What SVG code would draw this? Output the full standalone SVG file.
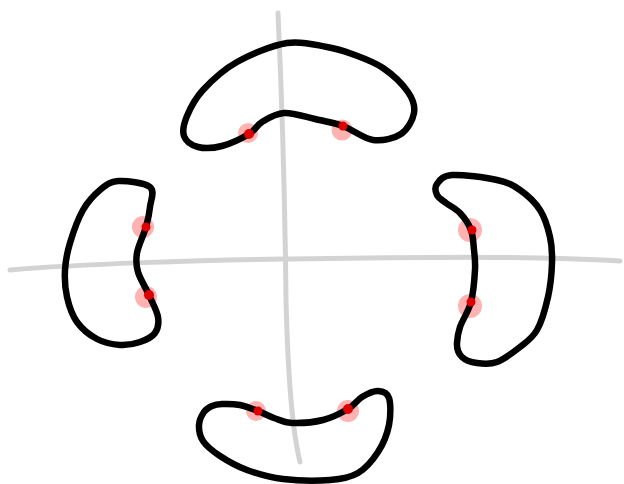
<svg xmlns="http://www.w3.org/2000/svg" width="624" height="484" viewBox="0 0 624 484">
<style>
.axis{fill:none;stroke:#d3d3d3;stroke-width:5;stroke-linecap:round;stroke-linejoin:round}
.bean{fill:none;stroke:#000;stroke-width:6.5;stroke-linecap:round;stroke-linejoin:round}
.halo{fill:#ff0000;fill-opacity:0.3}
.dot{fill:#dd0000}
</style>
<g id="axes">
<path class="axis" d="M10,270 C80,264 200,260 285,259 C400,258 520,255 620,261"/>
<path class="axis" d="M278,13 C282,100 285,200 286,300 C288,380 292,430 300,462"/>
</g>
<g id="halos">
<circle class="halo" cx="248" cy="133" r="10"/>
<circle class="halo" cx="342" cy="130" r="10.5"/>
<circle class="halo" cx="143" cy="227" r="11"/>
<circle class="halo" cx="146" cy="297" r="11"/>
<circle class="halo" cx="470" cy="230" r="12"/>
<circle class="halo" cx="470" cy="306" r="12"/>
<circle class="halo" cx="256" cy="411" r="10"/>
<circle class="halo" cx="348" cy="411" r="11"/>
</g>
<g id="bean-top">
<path class="bean" d="M287,43 C302,40.5 316.2,45.2 327,47 C337.8,48.8 342.7,50.5 352,54 C361.3,57.5 373.7,61.7 383,68 C392.3,74.3 402.8,84.5 408,92 C413.2,99.5 415.2,106 414,113 C412.8,120 407.8,129.5 401,134 C394.2,138.5 382.7,141.3 373,140 C363.3,138.7 352.7,129.5 343,126 C333.3,122.5 324.8,121.2 315,119 C305.2,116.8 292.8,112.5 284,113 C275.2,113.5 267.8,118.5 262,122 C256.2,125.5 255.7,130 249,134 C242.3,138 230.5,143.8 222,146 C213.5,148.2 204.3,148.7 198,147 C191.7,145.3 185.8,141.2 184,136 C182.2,130.8 183.8,123.7 187,116 C190.2,108.3 194.7,99 203,90 C211.3,81 223,69.8 237,62 C251,54.2 272,45.5 287,43 Z"/>
<circle class="dot" cx="249" cy="134" r="5"/>
<circle class="dot" cx="343" cy="126" r="4.5"/>
</g>
<g id="bean-left">
<path class="bean" d="M118,181 C126.3,180.5 144.7,182.7 150,187 C155.3,191.3 150.7,200.3 150,207 C149.3,213.7 148.2,219.3 146,227 C143.8,234.7 138.3,245.5 137,253 C135.7,260.5 136,265 138,272 C140,279 145.7,287.5 149,295 C152.3,302.5 157,310.7 158,317 C159,323.3 158,328.8 155,333 C152,337.2 145.8,340 140,342 C134.2,344 127.2,345.5 120,345 C112.8,344.5 104.2,342.8 97,339 C89.8,335.2 82,329 77,322 C72,315 69,305.7 67,297 C65,288.3 64.5,279 65,270 C65.5,261 67,253 70,243 C73,233 78,218.8 83,210 C88,201.2 94.2,194.8 100,190 C105.8,185.2 109.7,181.5 118,181 Z"/>
<circle class="dot" cx="146" cy="227" r="4.5"/>
<circle class="dot" cx="149" cy="295" r="5"/>
</g>
<g id="bean-right">
<path class="bean" d="M452,175 C462,174.3 485.7,177.5 497,180 C508.3,182.5 512.8,185 520,190 C527.2,195 535,202.2 540,210 C545,217.8 548,228.2 550,237 C552,245.8 552.3,253 552,263 C551.7,273 550.5,285.8 548,297 C545.5,308.2 541.7,321.7 537,330 C532.3,338.3 526.7,341.7 520,347 C513.3,352.3 504.2,359.3 497,362 C489.8,364.7 482.8,363.8 477,363 C471.2,362.2 465.3,360.3 462,357 C458.7,353.7 456.7,348 457,343 C457.3,338 457.7,333.8 460,327 C462.3,320.2 468.5,311.5 471,302 C473.5,292.5 474.5,278.7 475,270 C475.5,261.3 474.7,256.7 474,250 C473.3,243.3 473.3,236.2 471,230 C468.7,223.8 464.2,217.5 460,213 C455.8,208.5 449.8,206 446,203 C442.2,200 438.5,198.2 437,195 C435.5,191.8 434.5,187.3 437,184 C439.5,180.7 442,175.7 452,175 Z"/>
<circle class="dot" cx="472" cy="230" r="4.5"/>
<circle class="dot" cx="471" cy="302" r="4.5"/>
</g>
<g id="bean-bottom">
<path class="bean" d="M222,404 C226.7,403.8 234,403.8 240,405 C246,406.2 252.3,408.8 258,411 C263.7,413.2 268.3,416 274,418 C279.7,420 283.8,422.7 292,423 C300.2,423.3 313.7,422.3 323,420 C332.3,417.7 341.5,412.8 348,409 C354.5,405.2 357,400 362,397 C367,394 373.5,390.8 378,391 C382.5,391.2 387.2,392.3 389,398 C390.8,403.7 390.8,416 389,425 C387.2,434 383.2,444 378,452 C372.8,460 366,468.3 358,473 C350,477.7 342.5,479 330,480 C317.5,481 296.8,480.7 283,479 C269.2,477.3 257.5,473.8 247,470 C236.5,466.2 227.3,460.8 220,456 C212.7,451.2 206.5,446.2 203,441 C199.5,435.8 198.8,429.8 199,425 C199.2,420.2 201.8,415.2 204,412 C206.2,408.8 209,407.3 212,406 C215,404.7 217.3,404.2 222,404 Z"/>
<circle class="dot" cx="258" cy="411" r="4.5"/>
<circle class="dot" cx="348" cy="409" r="5"/>
</g>
</svg>
